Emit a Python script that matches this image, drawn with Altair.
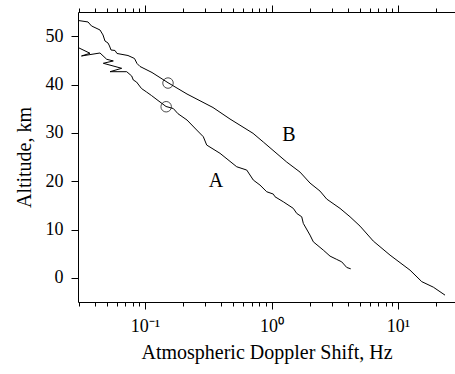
import altair as alt
import pandas as pd

# Curve A (Hz, km)
a_shift = [0.02954, 0.03674, 0.03148, 0.04408, 0.04980, 0.05616, 0.04682, 0.06543, 0.05289, 0.07166,
           0.07849, 0.08082, 0.08568, 0.09382, 0.1028, 0.1125, 0.1267, 0.1466, 0.1674, 0.1824,
           0.2148, 0.2563, 0.2890, 0.3074, 0.3917, 0.5307, 0.6368, 0.7180, 0.8111, 0.9165,
           1.033, 1.066, 1.240, 1.487, 1.582, 1.733, 1.784, 2.015, 2.140, 2.568,
           2.901, 3.276, 3.588, 3.930, 4.228]
a_alt = [47.66, 46.46, 45.90, 46.52, 45.22, 44.87, 44.39, 43.35, 42.65, 42.65,
         41.76, 40.93, 40.52, 39.17, 38.45, 37.72, 36.69, 35.45, 35.03, 33.95,
         32.65, 30.58, 29.19, 27.47, 25.76, 22.98, 22.30, 20.23, 19.19, 17.81,
         17.33, 16.77, 15.73, 14.37, 13.33, 12.63, 11.26, 8.84, 7.45, 5.73,
         4.49, 3.81, 3.31, 2.15, 1.86]

# Curve B (Hz, km)
b_shift = [0.02954, 0.03543, 0.03777, 0.04408, 0.04656, 0.04828, 0.05099, 0.05241, 0.05386, 0.05791,
           0.06007, 0.07338, 0.08259, 0.08645, 0.09131, 0.1136, 0.1520, 0.2148, 0.3447, 0.4697,
           0.7143, 0.8613, 1.319, 1.680, 2.015, 2.417, 2.732, 3.479, 4.175, 5.008,
           6.378, 8.646, 12.44, 15.40, 19.01, 23.52]
b_alt = [53.25, 52.94, 52.11, 51.28, 50.25, 49.0, 48.59, 47.97, 47.14, 47.04,
         46.42, 46.0, 45.38, 44.35, 43.73, 42.48, 40.37, 38.03, 35.24, 32.86,
         29.90, 28.10, 23.95, 21.88, 19.61, 17.95, 16.29, 14.37, 12.63, 10.70,
         7.60, 4.70, 1.59, -0.79, -1.93, -3.58]

marker_shift = [0.152, 0.147]
marker_alt = [40.3, 35.4]

curve_labels = ["A", "B"]
label_shift = [0.364, 1.375]
label_alt = [20.0, 29.5]

x_ticks = [0.03, 0.04, 0.05, 0.06, 0.07, 0.08, 0.09,
           0.1, 0.2, 0.3, 0.4, 0.5, 0.6, 0.7, 0.8, 0.9,
           1, 2, 3, 4, 5, 6, 7, 8, 9,
           10, 20]
y_ticks = [0, 10, 20, 30, 40, 50]

rows = []
for i, (s, h) in enumerate(zip(a_shift, a_alt)):
    rows.append({"curve": "A", "idx": i, "shift": s, "alt": h})
for i, (s, h) in enumerate(zip(b_shift, b_alt)):
    rows.append({"curve": "B", "idx": i, "shift": s, "alt": h})
df = pd.DataFrame(rows)
markers = pd.DataFrame({"shift": marker_shift, "alt": marker_alt})
labels = pd.DataFrame({"name": curve_labels, "shift": label_shift, "alt": label_alt})

FONT = "Liberation Serif"
xscale = alt.Scale(type="log", domain=[0.02954, 28.2], nice=False)
yscale = alt.Scale(domain=[-5, 55], nice=False, zero=False)

major_test = "abs(log(datum.value)/LN10 - round(log(datum.value)/LN10)) < 0.001"
tick_size = {"condition": {"test": major_test, "value": 7}, "value": 4}
label_expr = ("datum.value == 0.1 ? '10\u207b\u00b9' : datum.value == 1 ? '10\u2070' : "
              "datum.value == 10 ? '10\u00b9' : ''")

x_bottom = alt.X("shift:Q", scale=xscale,
                 axis=alt.Axis(orient="bottom", values=x_ticks, tickSize=tick_size,
                               labelExpr=label_expr, labelFont=FONT, labelFontSize=18,
                               labelPadding=8, title="Atmospheric Doppler Shift, Hz",
                               titleFont=FONT, titleFontSize=20, titlePadding=7))
x_top = alt.X("shift:Q", scale=xscale,
              axis=alt.Axis(orient="top", values=x_ticks, tickSize=tick_size,
                            labels=False, title=None))
x_none = alt.X("shift:Q", scale=xscale, axis=None)
y_enc = alt.Y("alt:Q", scale=yscale,
              axis=alt.Axis(values=y_ticks, tickSize=7, labelFont=FONT, labelFontSize=18,
                            labelPadding=8, title="Altitude, km", titleFont=FONT,
                            titleFontSize=20, titlePadding=11))

lines = alt.Chart(df).mark_line(color="black", strokeWidth=1).encode(
    x=x_bottom, y=y_enc, detail="curve:N", order="idx:Q")
top_axis = alt.Chart(df).mark_line(opacity=0).encode(
    x=x_top, y=y_enc, detail="curve:N", order="idx:Q")
circles = alt.Chart(markers).mark_point(shape="circle", size=110, color="black",
                                        filled=False, strokeWidth=1).encode(
    x=x_none, y=y_enc)
texts = alt.Chart(labels).mark_text(font=FONT, fontSize=20, color="black").encode(
    x=x_none, y=y_enc, text="name:N")

chart = alt.layer(lines, top_axis, circles, texts).resolve_axis(x="independent").properties(
    width=377, height=290,
    autosize=alt.AutoSizeParams(type="none"),
    padding={"left": 78, "top": 12, "right": 0, "bottom": 72},
).configure_axis(
    labelFont=FONT, titleFont=FONT, labelColor="black", titleColor="black",
    tickColor="black", domainColor="black", grid=False, titleFontWeight="normal",
    tickWidth=1, domainWidth=1,
).configure_view(stroke=None)

chart.save("out.html", embed_options={"renderer": "svg", "actions": False})
